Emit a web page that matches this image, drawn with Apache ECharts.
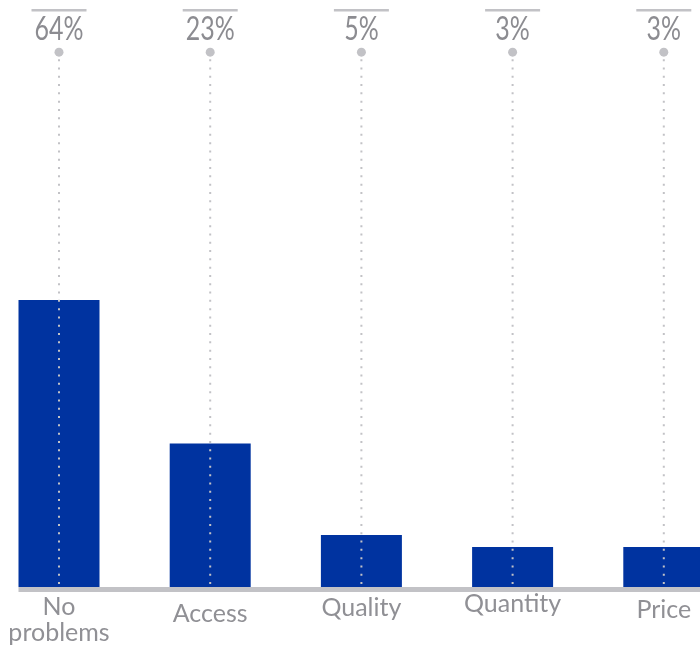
<!DOCTYPE html>
<html>
<head>
<meta charset="utf-8">
<script src="https://cdn.jsdelivr.net/npm/echarts@6/dist/echarts.min.js"></script>
<style>
html,body{margin:0;padding:0;background:#fff;}
#chart{width:700px;height:651px;}
</style>
</head>
<body>
<div id="chart"></div>
<script>
// Categories (x axis)
const categories = ['No\nproblems', 'Access', 'Quality', 'Quantity', 'Price'];
// Bar heights (unlabelled scale, first bar = 64)
const barValues = [64, 32, 11.6, 8.9, 8.9];
// Value labels printed above each column
const valueLabels = ['64%', '23%', '5%', '3%', '3%'];

// styling helpers (not data)
const labelShift = [3, 9.5, 3.5, 0, 5.5];
const DOT_LEVEL = 119.3;
const GREY = '#c2c2c6';
const TEXT = '#909095';

const chart = echarts.init(document.getElementById('chart'));

const option = {
  animation: false,
  grid: { left: -16.6, right: -39.4, top: 49, bottom: 64, containLabel: false, outerBoundsMode: 'none' },
  xAxis: {
    type: 'category',
    data: categories.map((c, i) => ({ value: c, textStyle: { padding: [labelShift[i], 0, 0, 0] } })),
    axisLine: { show: false },
    axisTick: { show: false },
    axisLabel: {
      margin: 4,
      interval: 0,
      color: TEXT,
      fontFamily: 'Lato, sans-serif',
      fontSize: 25,
      lineHeight: 26,
      verticalAlign: 'top'
    }
  },
  yAxis: {
    type: 'value', min: 0, max: 120,
    show: false,
    splitLine: { show: false }
  },
  series: [
    {
      type: 'bar',
      data: barValues,
      barWidth: 81,
      itemStyle: { color: '#0033a0' },
      z: 2
    },
    {
      type: 'custom',
      z: 5,
      data: valueLabels.map((l, i) => [i, DOT_LEVEL]),
      renderItem: function (params, api) {
        const i = params.dataIndex;
        const top = api.coord([api.value(0), api.value(1)]);
        const base = api.coord([api.value(0), 0]);
        const band = api.size([1, 0])[0];
        const x = top[0];
        const left = i === 0 ? x - 40.5 : x - band / 2 - 1;
        return {
          type: 'group',
          children: [
            { type: 'line', shape: { x1: left, y1: base[1] + 2.5, x2: x + band / 2 + 1, y2: base[1] + 2.5 },
              style: { stroke: GREY, lineWidth: 5 } },
            { type: 'line', shape: { x1: x, y1: top[1] + 7, x2: x, y2: base[1] },
              style: { stroke: GREY, lineWidth: 2, lineDash: [2, 6.3] } },
            { type: 'circle', shape: { cx: x, cy: top[1], r: 4.5 }, style: { fill: GREY } },
            { type: 'line', shape: { x1: x - 27.5, y1: top[1] - 42, x2: x + 27.5, y2: top[1] - 42 },
              style: { stroke: GREY, lineWidth: 2.5 } },
            { type: 'text', x: x, y: top[1] - 22, scaleX: 0.78,
              style: { text: valueLabels[i], fill: '#8c8c91', align: 'center', verticalAlign: 'middle',
                font: "32px Lato, sans-serif" } }
          ]
        };
      }
    }
  ]
};
chart.setOption(option);
</script>
</body>
</html>
